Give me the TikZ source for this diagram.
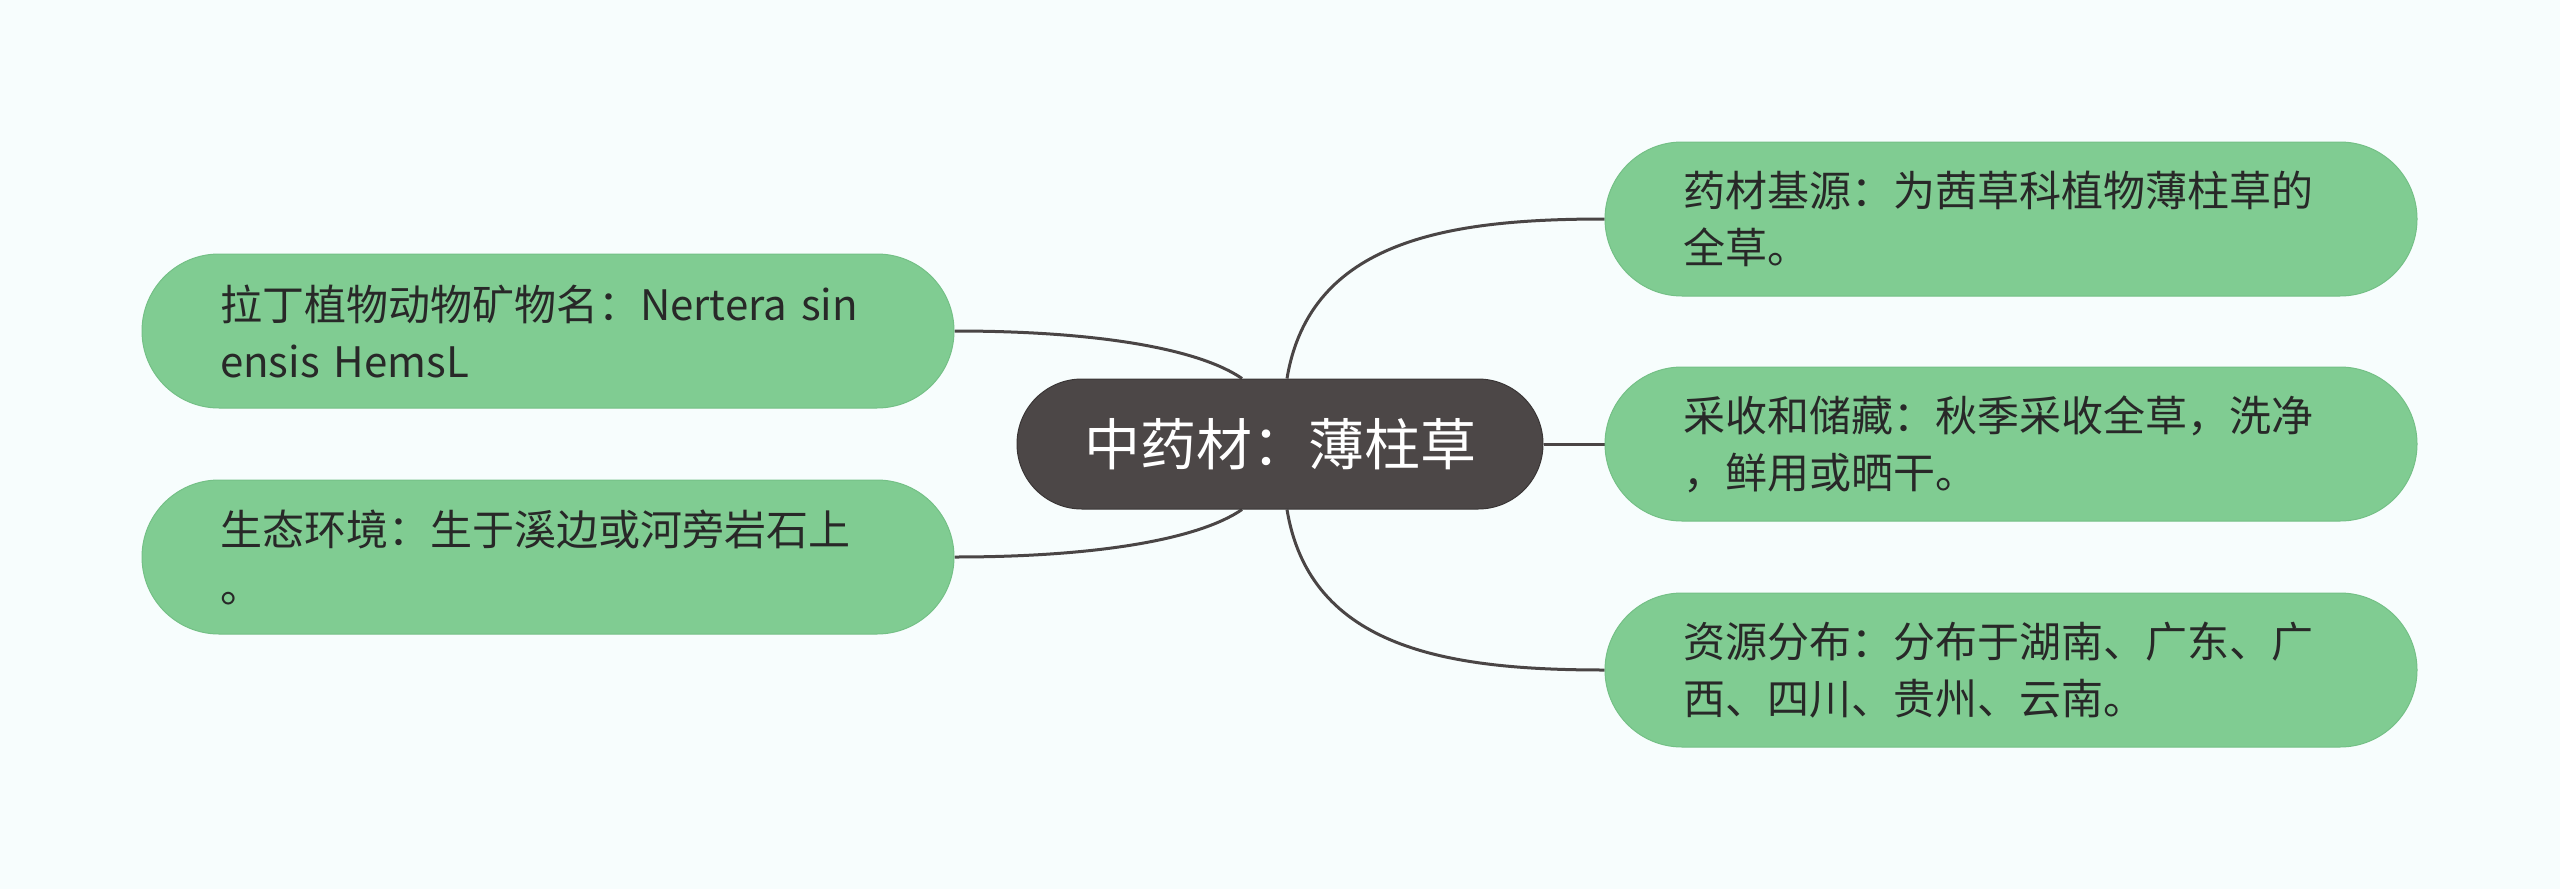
\documentclass[tikz,border=0pt]{standalone}
\usepackage{fontspec}
\setmainfont{Noto Sans CJK SC}
\usetikzlibrary{calc,backgrounds}
\definecolor{bgcol}{RGB}{247,253,253}
\definecolor{leaf}{RGB}{128,204,146}
\definecolor{leafline}{RGB}{116,192,134}
\definecolor{rootcol}{RGB}{76,71,71}
\definecolor{rootline}{RGB}{58,54,54}
\definecolor{linkcol}{RGB}{74,69,69}
\definecolor{txt}{RGB}{40,40,40}
\begin{document}
\begin{tikzpicture}[x=1pt,y=-1pt,
  leafbox/.style={rectangle, rounded corners=77pt, fill=leaf, draw=leafline, line width=1pt,
    text width=656pt, align=left, inner xsep=78pt, inner ysep=0pt, minimum height=154pt,
    text=txt, font=\fontsize{42}{57}\selectfont},
  rootbox/.style={rectangle, rounded corners=65pt, fill=rootcol, draw=rootline, line width=1pt,
    minimum width=526pt, minimum height=130pt, inner sep=0pt, text=white,
    font=\fontsize{56}{60}\selectfont},
  linkline/.style={draw=linkcol, line width=3pt}]
\useasboundingbox (0,0) rectangle (2560,889);

\node[rootbox] (c) at (1280,444) {中药材：薄柱草};

\node[leafbox] (l1) at (548,331) {拉丁植物动物矿物名：Nertera sin\\ensis HemsL};
\node[leafbox] (l2) at (548,557) {生态环境：生于溪边或河旁岩石上\\。};

\node[leafbox] (r1) at (2011,219) {药材基源：为茜草科植物薄柱草的\\全草。};
\node[leafbox] (r2) at (2011,444) {采收和储藏：秋季采收全草，洗净\\，鲜用或晒干。};
\node[leafbox] (r3) at (2011,670) {资源分布：分布于湖南、广东、广\\西、四川、贵州、云南。};

\begin{scope}[on background layer]
  \fill[bgcol] (0,0) rectangle (2560,889);
  \draw[linkline] ($(c.north)+(7,0)$) .. controls ($(c.north)+(30,-139)$) and ($(r1.west)+(-155,0)$) .. (r1.west);
  \draw[linkline] (c.east) -- (r2.west);
  \draw[linkline] ($(c.south)+(7,0)$) .. controls ($(c.south)+(30,140)$) and ($(r3.west)+(-155,0)$) .. (r3.west);
  \draw[linkline] ($(c.north)+(-38,0)$) .. controls ($(c.north)+(-80,-29)$) and ($(l1.east)+(146,0)$) .. (l1.east);
  \draw[linkline] ($(c.south)+(-38,0)$) .. controls ($(c.south)+(-80,29)$) and ($(l2.east)+(146,0)$) .. (l2.east);
\end{scope}
\end{tikzpicture}
\end{document}
